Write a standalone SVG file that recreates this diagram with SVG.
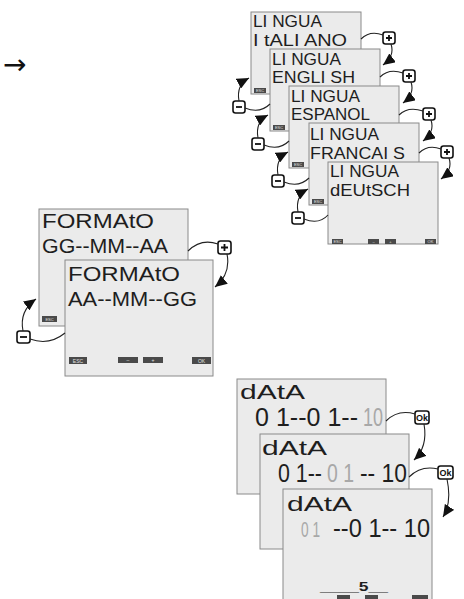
<svg xmlns="http://www.w3.org/2000/svg" width="464" height="599" viewBox="0 0 464 599">
<style>
.scr{fill:#ebebeb;stroke:#8a8a8a;stroke-width:1}
.lcd{font-family:"Liberation Sans",Arial,sans-serif;fill:#1e1e1e}
.l17{font-size:17px}
.l21{font-size:21px}
.l20{font-size:20px}
.l25{font-size:25px}
.dim{fill:#a8a8a8}
.kb{fill:#4a4a4a}
.kt{font-family:"Liberation Sans",Arial,sans-serif;font-size:4px;fill:#e0e0e0;text-anchor:middle}
.btn{fill:#fff;stroke:#111;stroke-width:1.6}
.sym{stroke:#111;stroke-width:1.8;fill:none}
.con{fill:none;stroke:#222;stroke-width:1.1}
.okt{font-family:"Liberation Sans",Arial,sans-serif;font-size:9px;font-weight:bold;fill:#111;text-anchor:middle}
</style>
<defs>
<marker id="ah" markerUnits="userSpaceOnUse" markerWidth="13" markerHeight="11" refX="12" refY="5.5" orient="auto">
<path d="M0,0 L12,5.5 L0,11 Z" fill="#111"/>
</marker>
</defs>

<text x="3" y="74" font-family="DejaVu Sans,sans-serif" font-size="28" fill="#111">→</text>

<!-- LINGUA stack -->
<g id="lingua-it" transform="translate(251,12)">
<rect class="scr" width="110" height="82"/>
<text class="lcd l17" x="2" y="15" textLength="69" lengthAdjust="spacingAndGlyphs">LI NGUA</text>
<text class="lcd l17" x="2" y="34" textLength="94" lengthAdjust="spacingAndGlyphs">I tALI ANO</text>
<rect class="kb" x="3" y="76" width="12" height="5"/><text class="kt" x="9" y="80">ESC</text>
</g>
<g id="lingua-en" transform="translate(270,49)">
<rect class="scr" width="110" height="82"/>
<text class="lcd l17" x="2" y="16" textLength="69" lengthAdjust="spacingAndGlyphs">LI NGUA</text>
<text class="lcd l17" x="2" y="34" textLength="83" lengthAdjust="spacingAndGlyphs">ENGLI SH</text>
<rect class="kb" x="3" y="76" width="12" height="5"/><text class="kt" x="9" y="80">ESC</text>
</g>
<g id="lingua-es" transform="translate(289,86)">
<rect class="scr" width="110" height="82"/>
<text class="lcd l17" x="2" y="16" textLength="69" lengthAdjust="spacingAndGlyphs">LI NGUA</text>
<text class="lcd l17" x="2" y="34" textLength="79" lengthAdjust="spacingAndGlyphs">ESPANOL</text>
<rect class="kb" x="3" y="76" width="12" height="5"/><text class="kt" x="9" y="80">ESC</text>
</g>
<g id="lingua-fr" transform="translate(309,123)">
<rect class="scr" width="110" height="82"/>
<text class="lcd l17" x="1" y="17" textLength="69" lengthAdjust="spacingAndGlyphs">LI NGUA</text>
<text class="lcd l17" x="1" y="36" textLength="95" lengthAdjust="spacingAndGlyphs">FRANCAI S</text>
<rect class="kb" x="3" y="76" width="12" height="5"/><text class="kt" x="9" y="80">ESC</text>
</g>
<g id="lingua-de" transform="translate(328,162)">
<rect class="scr" width="110" height="82"/>
<text class="lcd l17" x="2" y="15" textLength="69" lengthAdjust="spacingAndGlyphs">LI NGUA</text>
<text class="lcd l17" x="2" y="34" textLength="80" lengthAdjust="spacingAndGlyphs">dEUtSCH</text>
<rect class="kb" x="4" y="77" width="11" height="5"/><text class="kt" x="9.5" y="81">ESC</text>
<rect class="kb" x="40" y="77" width="11" height="5"/><text class="kt" x="45.5" y="81">–</text>
<rect class="kb" x="57" y="77" width="11" height="5"/><text class="kt" x="62.5" y="81">+</text>
<rect class="kb" x="97" y="77" width="11" height="5"/><text class="kt" x="102.5" y="81">OK</text>
</g>

<!-- FORMATO -->
<g id="formato-gg" transform="translate(39,209)">
<rect class="scr" width="149" height="117"/>
<text class="lcd l21" x="3" y="19" textLength="112" lengthAdjust="spacingAndGlyphs">FORMAtO</text>
<text class="lcd l21" x="3" y="44" textLength="126" lengthAdjust="spacingAndGlyphs">GG--MM--AA</text>
<rect class="kb" x="3" y="107" width="15" height="6"/><text class="kt" x="10.5" y="112">ESC</text>
</g>
<g id="formato-aa" transform="translate(65,260)">
<rect class="scr" width="148" height="116"/>
<text class="lcd l21" x="3" y="21" textLength="112" lengthAdjust="spacingAndGlyphs">FORMAtO</text>
<text class="lcd l21" x="3" y="46" textLength="129" lengthAdjust="spacingAndGlyphs">AA--MM--GG</text>
<rect class="kb" x="4" y="97" width="18" height="7"/><text class="kt" x="13" y="102.5" style="font-size:5px">ESC</text>
<rect class="kb" x="53" y="97" width="20" height="6"/><text class="kt" x="63" y="102" style="font-size:5px">–</text>
<rect class="kb" x="78" y="97" width="20" height="6"/><text class="kt" x="88" y="102" style="font-size:5px">+</text>
<rect class="kb" x="127" y="97" width="19" height="7"/><text class="kt" x="136.5" y="102.5" style="font-size:5px">OK</text>
</g>

<!-- DATA -->
<g id="data-1" transform="translate(237,379)">
<rect class="scr" width="149" height="115"/>
<text class="lcd l20" x="3" y="20" textLength="65" lengthAdjust="spacingAndGlyphs">dAtA</text>
<text class="lcd l25" x="18" y="47" textLength="103" lengthAdjust="spacingAndGlyphs">0 1--0 1--</text>
<text class="lcd l25 dim" x="126" y="47" textLength="20" lengthAdjust="spacingAndGlyphs">10</text>
</g>
<g id="data-2" transform="translate(260,434)">
<rect class="scr" width="149" height="115"/>
<text class="lcd l20" x="2" y="21" textLength="65" lengthAdjust="spacingAndGlyphs">dAtA</text>
<text class="lcd l25" x="18" y="48" textLength="44" lengthAdjust="spacingAndGlyphs">0 1--</text>
<text class="lcd l25 dim" x="67" y="48" textLength="27" lengthAdjust="spacingAndGlyphs">0 1</text>
<text class="lcd l25" x="100" y="48" textLength="47" lengthAdjust="spacingAndGlyphs">-- 10</text>
</g>
<g id="data-3" transform="translate(283,489)">
<rect class="scr" width="149" height="118"/>
<text class="lcd l20" x="4" y="22" textLength="65" lengthAdjust="spacingAndGlyphs">dAtA</text>
<text class="lcd dim" x="18" y="48" font-size="22" textLength="19" lengthAdjust="spacingAndGlyphs">0 1</text>
<text class="lcd l25" x="50" y="48" textLength="97" lengthAdjust="spacingAndGlyphs">--0 1-- 10</text>
<text class="lcd" x="37" y="102" font-size="12" font-weight="bold" textLength="68" lengthAdjust="spacingAndGlyphs">____5__</text>
<rect class="kb" x="54" y="106" width="13" height="6"/>
<rect class="kb" x="82" y="106" width="13" height="6"/>
<rect class="kb" x="129" y="106" width="16" height="6"/>
</g>

<!-- key buttons -->
<g id="btn-plus-1"><rect class="btn" x="383" y="32" width="12" height="12" rx="2.5"/><path class="sym" d="M386,38h6M389,35v6"/></g>
<g id="btn-plus-2"><rect class="btn" x="403" y="70" width="12" height="12" rx="2.5"/><path class="sym" d="M406,76h6M409,73v6"/></g>
<g id="btn-plus-3"><rect class="btn" x="423" y="108" width="12" height="12" rx="2.5"/><path class="sym" d="M426,114h6M429,111v6"/></g>
<g id="btn-plus-4"><rect class="btn" x="441" y="146" width="12" height="12" rx="2.5"/><path class="sym" d="M444,152h6M447,149v6"/></g>
<g id="btn-minus-1"><rect class="btn" x="233" y="101" width="12" height="12" rx="2.5"/><path class="sym" d="M236,107h6"/></g>
<g id="btn-minus-2"><rect class="btn" x="252" y="138" width="12" height="12" rx="2.5"/><path class="sym" d="M255,144h6"/></g>
<g id="btn-minus-3"><rect class="btn" x="272" y="175" width="12" height="12" rx="2.5"/><path class="sym" d="M275,181h6"/></g>
<g id="btn-minus-4"><rect class="btn" x="292" y="212" width="12" height="12" rx="2.5"/><path class="sym" d="M295,218h6"/></g>
<g id="btn-plus-f"><rect class="btn" x="218" y="241" width="13" height="13" rx="2.5"/><path class="sym" d="M221,247.5h7M224.5,244v7"/></g>
<g id="btn-minus-f"><rect class="btn" x="17" y="331" width="13" height="12" rx="2.5"/><path class="sym" d="M20,337h7"/></g>
<g id="btn-ok-1"><rect class="btn" x="415" y="411" width="14" height="13" rx="2.5"/><text class="okt" x="422" y="421">Ok</text></g>
<g id="btn-ok-2"><rect class="btn" x="438" y="466" width="15" height="13" rx="2.5"/><text class="okt" x="445.5" y="476">Ok</text></g>

<g id="connectors">
<path class="con" d="M361,39 Q370,30 383,35"/>
<path class="con" d="M391,44 Q395,56 383,65" marker-end="url(#ah)"/>
<path class="con" d="M380,77 Q389,68 403,73"/>
<path class="con" d="M411,82 Q415,94 403,103" marker-end="url(#ah)"/>
<path class="con" d="M399,115 Q408,106 423,111"/>
<path class="con" d="M431,120 Q435,132 423,141" marker-end="url(#ah)"/>
<path class="con" d="M419,153 Q428,144 441,149"/>
<path class="con" d="M449,158 Q453,170 441,179" marker-end="url(#ah)"/>
<path class="con" d="M239,101 Q236,85 249,78" marker-end="url(#ah)"/>
<path class="con" d="M245,108 Q260,114 270,104"/>
<path class="con" d="M258,138 Q255,122 268,115" marker-end="url(#ah)"/>
<path class="con" d="M264,145 Q279,151 289,141"/>
<path class="con" d="M278,175 Q275,159 288,152" marker-end="url(#ah)"/>
<path class="con" d="M284,182 Q299,188 309,178"/>
<path class="con" d="M298,212 Q295,196 308,189" marker-end="url(#ah)"/>
<path class="con" d="M304,219 Q319,225 328,215"/>
<path class="con" d="M188,251 Q201,238 218,244"/>
<path class="con" d="M227,254 Q231,274 215,287" marker-end="url(#ah)"/>
<path class="con" d="M23,331 Q19,311 36,299" marker-end="url(#ah)"/>
<path class="con" d="M30,339 Q49,346 65,333"/>
<path class="con" d="M386,421 Q398,409 415,414"/>
<path class="con" d="M424,424 Q428,447 414,460" marker-end="url(#ah)"/>
<path class="con" d="M409,477 Q421,465 438,469"/>
<path class="con" d="M447,479 Q452,503 443,517" marker-end="url(#ah)"/>
</g>
</svg>
